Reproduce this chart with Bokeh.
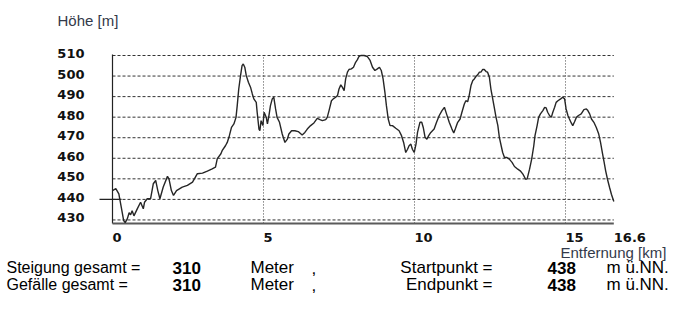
from bokeh.plotting import figure
from bokeh.models import Range1d, Label
from bokeh.embed import file_html
from bokeh.resources import INLINE

# ---------------- data ----------------
dist_km = [
    0.00, 0.11, 0.21, 0.29, 0.37, 0.42, 0.49, 0.55, 0.60, 0.65, 0.71, 0.82, 0.93, 1.02, 1.06, 1.15, 1.26,
    1.35, 1.43, 1.50, 1.57, 1.68, 1.82, 1.87, 1.95, 2.02, 2.12, 2.31, 2.48, 2.65, 2.81, 2.98, 3.14, 3.30,
    3.41, 3.47, 3.59,
    3.63, 3.74, 3.80, 3.87, 3.94, 4.02, 4.09, 4.13, 4.18, 4.24, 4.29, 4.33, 4.38, 4.43, 4.50, 4.57, 4.63,
    4.68, 4.76, 4.79, 4.85, 4.88, 4.92, 4.98, 5.02, 5.09, 5.13, 5.18, 5.23, 5.29, 5.34, 5.40, 5.45, 5.53,
    5.62, 5.71, 5.79, 5.84, 5.93, 6.04, 6.15, 6.28, 6.37, 6.45, 6.56, 6.67,
    6.78, 6.87, 6.95, 7.06, 7.11, 7.17, 7.25, 7.31, 7.39, 7.45, 7.50, 7.56, 7.61, 7.67, 7.72, 7.78, 7.83,
    7.91, 7.98, 8.05, 8.11, 8.16, 8.22, 8.33, 8.44, 8.53, 8.61, 8.69, 8.77, 8.84, 8.90, 8.96, 9.02, 9.07,
    9.13, 9.19, 9.27, 9.38, 9.49, 9.57, 9.64, 9.71, 9.77, 9.82, 9.88, 9.93, 9.99, 10.05,
    10.10, 10.18, 10.24, 10.29, 10.35, 10.41, 10.47, 10.54, 10.65, 10.73, 10.82, 10.91, 10.99, 11.06,
    11.15, 11.24, 11.30, 11.35, 11.43, 11.51, 11.57, 11.65, 11.70, 11.76, 11.81, 11.87, 11.93, 11.98,
    12.04, 12.09, 12.15, 12.20, 12.26, 12.31, 12.37, 12.42, 12.48, 12.53, 12.59, 12.65, 12.70, 12.76,
    12.81, 12.87, 12.92, 12.98, 13.05, 13.14, 13.23, 13.31, 13.42, 13.50, 13.59, 13.68,
    13.73, 13.81, 13.88, 13.95, 13.99, 14.06, 14.11, 14.17, 14.25, 14.31, 14.36, 14.41, 14.47, 14.53,
    14.58, 14.64, 14.69, 14.75, 14.84, 14.91, 14.97, 15.02, 15.08, 15.13, 15.19, 15.24, 15.30, 15.36,
    15.43, 15.52, 15.61, 15.69, 15.74, 15.80, 15.86, 15.94, 16.02, 16.10, 16.16, 16.22, 16.28, 16.33,
    16.39, 16.46, 16.52, 16.60,
]
elev_m = [
    444.3, 445.2, 442.7, 436.2, 429.7, 428.7, 430.5, 433.5, 432.5, 434.5, 432.0, 435.4, 438.6, 435.4, 438.6, 440.3, 440.3,
    447.6, 449.2, 444.3, 440.3, 446.0, 451.2, 450.0, 444.3, 441.9, 444.3, 446.0, 446.8, 448.4, 452.5, 452.8, 453.8, 454.9,
    455.7, 459.8, 462.2,
    463.7, 466.1, 467.7, 471.0, 475.0, 476.7, 479.9, 485.6, 493.7, 500.2, 505.1, 505.9, 504.3, 500.2, 497.0, 494.6, 491.3,
    488.9, 487.2, 482.4, 474.2, 473.4, 478.3, 475.9, 482.4, 480.0, 476.7, 480.8, 485.6, 488.9, 489.7, 484.0, 479.9, 477.5,
    471.8, 467.7, 469.3, 471.8, 473.4, 473.4, 473.0, 471.3, 472.6, 474.2, 475.9, 477.2,
    479.4, 478.8, 478.3, 478.8, 479.9, 483.2, 488.0, 488.9, 489.7, 490.5, 493.7, 495.7, 494.6, 492.9, 498.6, 501.9, 503.2,
    503.5, 504.3, 506.7, 508.0, 509.5, 510.0, 510.0, 509.5, 507.6, 504.3, 502.7, 503.5, 504.3, 502.7, 498.6, 492.1, 485.6,
    479.1, 475.9, 475.9, 474.6, 473.4, 471.0, 467.7, 462.8, 464.4, 466.1, 466.9, 464.4, 462.8, 466.9,
    472.6, 477.5, 477.5, 475.0, 470.2, 469.3, 471.0, 472.6, 474.2, 477.5, 480.8, 483.2, 484.8, 481.6,
    477.5, 474.2, 472.3, 474.2, 477.5, 479.1, 482.4, 486.4, 488.0, 487.5, 490.5, 495.4, 497.8, 498.6,
    499.9, 500.6, 501.9, 501.9, 503.2, 503.2, 502.2, 501.9, 499.4, 493.7, 488.9, 484.0, 479.9, 475.9,
    470.2, 466.1, 462.8, 460.4, 460.4, 459.6, 458.0, 456.0, 454.7, 453.9, 452.3, 449.8,
    450.0, 454.7, 459.6, 466.1, 471.0, 475.9, 479.9, 481.6, 483.2, 484.8, 484.5, 482.4, 480.8, 479.9,
    482.4, 484.8, 487.2, 488.0, 488.9, 489.7, 488.9, 484.0, 480.8, 479.1, 477.2, 475.9, 477.8, 479.9,
    480.8, 481.6, 483.7, 484.0, 483.2, 481.6, 479.1, 477.5, 475.0, 471.8, 467.7, 462.8, 458.0, 453.9,
    449.8, 445.8, 442.5, 439.0,
]

y_ticks = [430, 440, 450, 460, 470, 480, 490, 500, 510]
y_tick_labels = ["430", "440", "450", "460", "470", "480", "490", "500", "510"]
x_tick_values = [0, 5, 10, 15, 16.6]
x_tick_labels = ["0", "5", "10", "15", "16.6"]
x_grid_values = [5, 10, 15]
x_end = 16.6
y_top = 510
y_base = 428.3
start_marker_elev = 440

y_title = "Höhe [m]"
x_title = "Entfernung [km]"
row_titles_left = ["Steigung gesamt =", "Gefälle gesamt ="]
row_values_left = ["310", "310"]
row_unit_left = "Meter"
row_titles_right = ["Startpunkt =", "Endpunkt ="]
row_values_right = ["438", "438"]
row_unit_right = "m ü.NN."

# ---------------- layout helpers (picture pixel -> data) ----------------
W, H = 671, 293
PX_PER_KM = 30.2
PX_PER_M = 2.0556
X0_PX, Y510_PX = 112.0, 55.0


def xd(px):
    return (px - X0_PX) / PX_PER_KM


def yd(py):
    return 510 - (py - Y510_PX) / PX_PER_M


XR = (xd(0), xd(W))
YR = (yd(H), yd(0))

p = figure(width=W, height=H, output_backend="svg", toolbar_location=None,
           x_range=Range1d(*XR), y_range=Range1d(*YR),
           x_axis_location=None, y_axis_location=None,
           min_border=0, min_border_left=0, min_border_right=0,
           min_border_top=0, min_border_bottom=0)
p.outline_line_color = None
p.background_fill_color = "white"
p.border_fill_color = "white"
p.grid.visible = False

# horizontal dashed grid
p.segment(x0=[0] * len(y_ticks), x1=[x_end] * len(y_ticks), y0=y_ticks, y1=y_ticks,
          line_color="#333333", line_width=1, line_dash="3 2")
# vertical dotted grid
p.segment(x0=x_grid_values, x1=x_grid_values, y0=[y_base] * 3, y1=[y_top] * 3,
          line_color="#444444", line_width=1, line_dash="1 2")
# left axis line
p.segment(x0=[0], x1=[0], y0=[y_base], y1=[yd(54)], line_color="#222222", line_width=1.2)
# bottom axis line
p.segment(x0=[0], x1=[x_end], y0=[y_base], y1=[y_base], line_color="#5a5a5a", line_width=2)
# start elevation marker
p.segment(x0=[xd(99)], x1=[0.3], y0=[start_marker_elev], y1=[start_marker_elev],
          line_color="#222222", line_width=1.2)
# profile
p.line(dist_km, elev_m, line_color="#262626", line_width=1.4)


def lab(text, x, y, size="17px", align="left", style="normal", font="Liberation Sans",
        color="#000000", y_offset=0):
    p.add_layout(Label(x=x, y=y, text=text, text_align=align, y_offset=y_offset,
                       text_baseline="middle", text_font=font, text_font_style=style,
                       text_font_size=size, text_color=color))


# y tick labels
for v, t in zip(y_ticks, y_tick_labels):
    lab(t, xd(84), v, size="13px", align="right", style="bold", font="DejaVu Sans",
        color="#111111", y_offset=2)

# x tick labels (left aligned at tick)
for v, t in zip(x_tick_values, x_tick_labels):
    lab(t, v, yd(237), size="13px", style="bold", font="DejaVu Sans", color="#111111")

lab(y_title, xd(57), yd(20), size="15px", color="#333a4a")
lab(x_title, xd(560), yd(252), size="15px", color="#333a4a")

row_centers = [267, 284]
for i, yc in enumerate(row_centers):
    lab(row_titles_left[i], xd(6), yd(yc), size="16px")
    lab(row_values_left[i], xd(172), yd(yc), size="17px", style="bold")
    lab(row_unit_left, xd(250), yd(yc), size="17px")
    lab(",", xd(311), yd(yc), size="17px")
    lab(row_titles_right[i], xd(492), yd(yc), size="17px", align="right")
    lab(row_values_right[i], xd(547), yd(yc), size="17px", style="bold")
    lab(row_unit_right, xd(606), yd(yc), size="17px")

open("out.html", "w").write(file_html(p, INLINE))
